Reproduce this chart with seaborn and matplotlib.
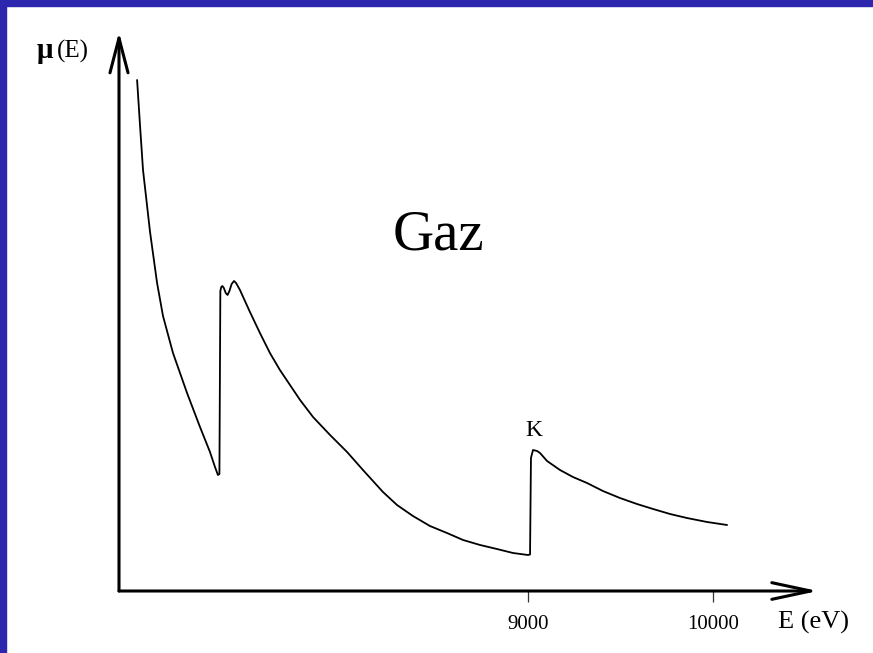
import numpy as np
import pandas as pd
import matplotlib
matplotlib.use("Agg")
import matplotlib.pyplot as plt
import seaborn as sns
from matplotlib.patches import FancyArrowPatch, Rectangle

# ---- data (arbitrary absorption units) ----
energy_ev = [6887, 6903, 6919, 6957, 6995, 7027, 7081, 7157, 7227, 7281, 7308,
             7324, 7332,
             7337, 7342, 7348, 7356, 7366, 7376, 7386, 7398, 7411, 7422,
             7443, 7497, 7551, 7605, 7659, 7768, 7838, 7930, 8022, 8108, 8216,
             8292, 8378, 8470, 8562, 8649, 8741, 8832, 8919, 9000, 9011,
             9016, 9027, 9049, 9065, 9103, 9173, 9243, 9319, 9405, 9497, 9589,
             9676, 9768, 9859, 9968, 10076]
mu_e = [1.022, 0.930, 0.842, 0.718, 0.616, 0.550, 0.476, 0.396, 0.328, 0.278, 0.248,
        0.232, 0.234,
        0.600, 0.608, 0.610, 0.606, 0.596, 0.592, 0.600, 0.614, 0.620, 0.616,
        0.602, 0.558, 0.516, 0.476, 0.442, 0.382, 0.348, 0.312, 0.278, 0.242, 0.198,
        0.172, 0.150, 0.130, 0.116, 0.102, 0.092, 0.084, 0.076, 0.072, 0.073,
        0.266, 0.282, 0.280, 0.276, 0.260, 0.242, 0.228, 0.216, 0.200, 0.186, 0.174,
        0.164, 0.154, 0.146, 0.138, 0.132]
xtick_values = [9000, 10000]
xtick_labels = ["9000", "10000"]
title_text = "Gaz"
edge_label = "K"
x_label = "E (eV)"
y_label_sym = "μ"
y_label_arg = "(E)"

df = pd.DataFrame({"E": energy_ev, "mu": mu_e})

sns.set_theme(style="white")
plt.rcParams["font.family"] = ["Liberation Serif", "DejaVu Serif"]
plt.rcParams["text.color"] = "black"
plt.rcParams["xtick.color"] = "black"
plt.rcParams["lines.solid_joinstyle"] = "round"

W, H = 873, 653
fig = plt.figure(figsize=(W / 100, H / 100), dpi=100)
fig.patch.set_facecolor("white")

def fx(x):
    return x / W

def fy(y):
    return 1 - y / H

# blue slide border (left and top strips)
blue = "#2d27b0"
fig.patches.append(Rectangle((0, 0), fx(6), 1, transform=fig.transFigure,
                             color=blue, zorder=0))
fig.patches.append(Rectangle((0, fy(6)), 1, 1 - fy(6), transform=fig.transFigure,
                             color=blue, zorder=0))

left, right, top, bottom = 119, 818, 32, 591
ax = fig.add_axes([fx(left), fy(bottom), fx(right) - fx(left), fy(top) - fy(bottom)])
ax.set_facecolor("none")

sns.lineplot(data=df, x="E", y="mu", sort=False, estimator=None, ax=ax,
             color="black", linewidth=1.3)

x0 = 9000 - (528 - left) * 1000 / 185
x1 = 9000 + (right - 528) * 1000 / 185
ax.set_xlim(x0, x1)
ax.set_ylim(0, (bottom - top) / 500)

for s in ax.spines.values():
    s.set_visible(False)

ax.set_xticks(xtick_values)
ax.set_xticklabels(xtick_labels, fontsize=15, color="black")
ax.set_yticks([])
ax.tick_params(axis="x", direction="out", length=8, width=0.9, color="#333333",
               pad=9, bottom=True)
ax.set_xlabel("")
ax.set_ylabel("")

# axis arrows
ax.add_patch(FancyArrowPatch((0, 0), (1, 0), transform=ax.transAxes,
                             arrowstyle="->,head_length=28,head_width=6",
                             mutation_scale=1, lw=2.2, color="black",
                             clip_on=False, shrinkA=0, shrinkB=0))
ax.add_patch(FancyArrowPatch((0, 0), (0, 1), transform=ax.transAxes,
                             arrowstyle="->,head_length=25,head_width=6.5",
                             mutation_scale=1, lw=2.2, color="black",
                             clip_on=False, shrinkA=0, shrinkB=0))

# texts
fig.text(fx(438), fy(249), title_text, fontsize=41, ha="center", va="baseline",
         color="black")
ax.text(9030, (591 - 436) / 500, edge_label, fontsize=17, ha="center",
        va="baseline", color="black")
fig.text(fx(814), fy(629), x_label, fontsize=19, ha="center", va="baseline",
         color="black")
fig.text(fx(45), fy(58), y_label_sym, fontsize=21, fontweight="bold",
         ha="center", va="baseline", color="black")
fig.text(fx(57), fy(58), y_label_arg, fontsize=18, ha="left", va="baseline",
         color="black")

fig.savefig("out.png", dpi=100)
